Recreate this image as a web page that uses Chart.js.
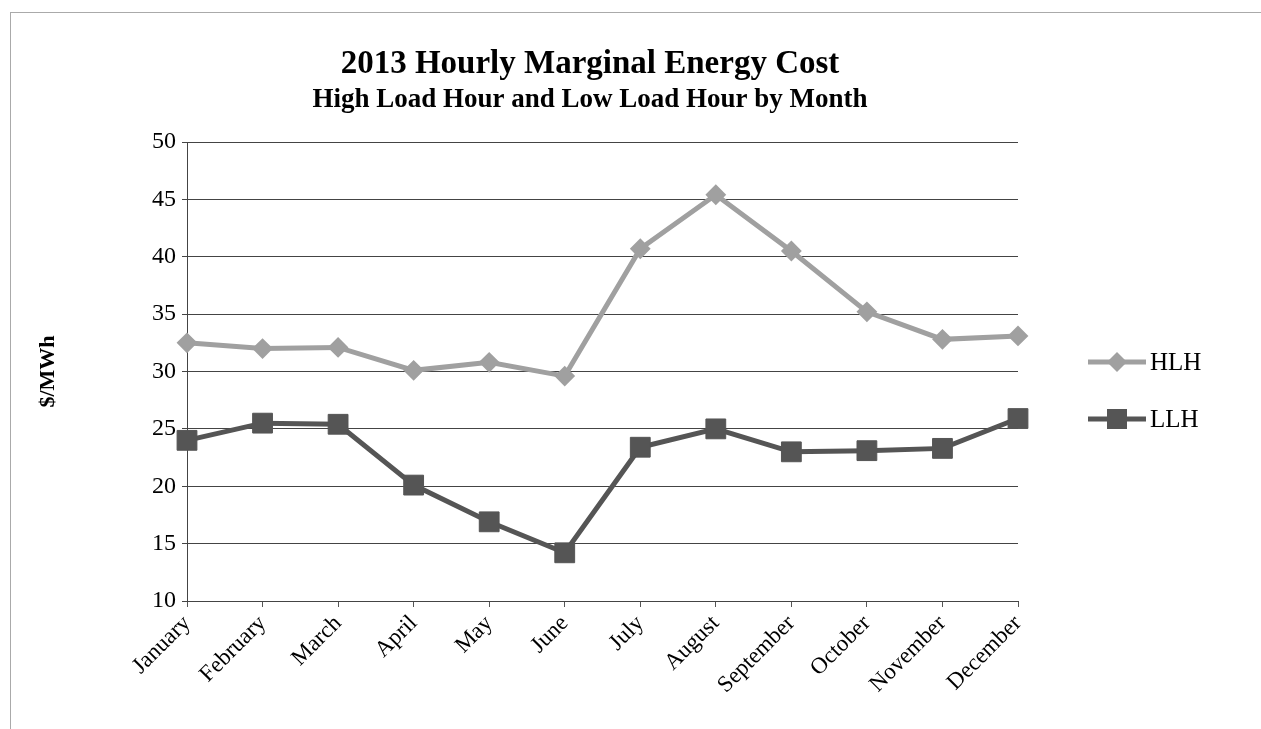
<!DOCTYPE html>
<html>
<head>
<meta charset="utf-8">
<script src="https://cdn.jsdelivr.net/npm/chart.js@4"></script>
<style>
  html, body { margin: 0; padding: 0; background: #fff; }
  #wrap { position: relative; width: 1261px; height: 729px; }
</style>
</head>
<body>
<div id="wrap"><canvas id="costChart" width="1261" height="729"></canvas></div>
<script>
const months = ['January', 'February', 'March', 'April', 'May', 'June', 'July',
  'August', 'September', 'October', 'November', 'December'];
const hlh = [32.5, 32.0, 32.1, 30.1, 30.8, 29.6, 40.7, 45.4, 40.5, 35.2, 32.8, 33.1];
const llh = [24.0, 25.5, 25.4, 20.1, 16.9, 14.2, 23.4, 25.0, 23.0, 23.1, 23.3, 25.9];
const yTicks = [10, 15, 20, 25, 30, 35, 40, 45, 50];
const titleText = '2013 Hourly Marginal Energy Cost';
const subtitleText = 'High Load Hour and Low Load Hour by Month';

const serif = '"Liberation Serif", "Times New Roman", serif';
const hlhColor = '#a0a0a0';
const llhColor = '#555555';

// frame, titles and the line+marker legend on the right
const decorPlugin = {
  id: 'decor',
  beforeDraw(chart) {
    const ctx = chart.ctx;
    ctx.save();
    ctx.strokeStyle = '#aaa';
    ctx.lineWidth = 1;
    ctx.strokeRect(10.5, 12.5, 1400, 900);
    ctx.restore();
  },
  afterDraw(chart) {
    const ctx = chart.ctx;
    ctx.save();
    ctx.fillStyle = '#000';
    ctx.textAlign = 'center';
    ctx.textBaseline = 'alphabetic';
    ctx.font = 'bold 33px ' + serif;
    ctx.fillText(titleText, 590, 73);
    ctx.font = 'bold 27px ' + serif;
    ctx.fillText(subtitleText, 590, 107);

    const items = [
      { label: 'HLH', color: hlhColor, shape: 'diamond', y: 362 },
      { label: 'LLH', color: llhColor, shape: 'square', y: 419 }
    ];
    items.forEach(it => {
      ctx.strokeStyle = it.color;
      ctx.lineWidth = 5;
      ctx.beginPath();
      ctx.moveTo(1088, it.y);
      ctx.lineTo(1146, it.y);
      ctx.stroke();
      ctx.fillStyle = it.color;
      ctx.beginPath();
      if (it.shape === 'diamond') {
        ctx.moveTo(1117 - 10, it.y);
        ctx.lineTo(1117, it.y - 10);
        ctx.lineTo(1117 + 10, it.y);
        ctx.lineTo(1117, it.y + 10);
        ctx.closePath();
      } else {
        ctx.rect(1117 - 10, it.y - 10, 20, 20);
      }
      ctx.fill();
      ctx.fillStyle = '#000';
      ctx.textAlign = 'left';
      ctx.textBaseline = 'middle';
      ctx.font = '25px ' + serif;
      ctx.fillText(it.label, 1150, it.y + 1);
    });
    ctx.restore();
  }
};

const ctx = document.getElementById('costChart').getContext('2d');
const costChart = new Chart(ctx, {
  type: 'line',
  data: {
    labels: months,
    datasets: [
      {
        label: 'HLH',
        data: hlh,
        borderColor: hlhColor,
        backgroundColor: hlhColor,
        borderWidth: 5,
        pointStyle: 'rectRot',
        pointRadius: 9,
        pointBorderWidth: 2,
        pointHoverRadius: 9,
        tension: 0
      },
      {
        label: 'LLH',
        data: llh,
        borderColor: llhColor,
        backgroundColor: llhColor,
        borderWidth: 5,
        pointStyle: 'rect',
        pointRadius: 14,
        pointBorderWidth: 1,
        pointHoverRadius: 14,
        tension: 0
      }
    ]
  },
  options: {
    responsive: false,
    animation: false,
    layout: { padding: { left: 0, top: 142, right: 243, bottom: 0 } },
    plugins: {
      legend: { display: false },
      title: { display: false },
      tooltip: { enabled: false }
    },
    scales: {
      x: {
        offset: false,
        afterFit: s => { s.height = 128; },
        grid: {
          drawOnChartArea: false,
          drawTicks: true,
          tickLength: 6,
          color: '#555'
        },
        border: { color: '#444', width: 1 },
        ticks: {
          minRotation: 45,
          maxRotation: 45,
          color: '#000',
          padding: 3,
          font: { family: serif, size: 23 }
        }
      },
      y: {
        min: 10,
        max: 50,
        afterFit: s => { s.width = 187; },
        afterBuildTicks: s => { s.ticks = yTicks.map(v => ({ value: v })); },
        grid: {
          color: '#444',
          lineWidth: 1,
          tickLength: 5
        },
        border: { color: '#444', width: 1 },
        ticks: {
          color: '#000',
          padding: 6,
          font: { family: serif, size: 24 }
        },
        title: {
          display: true,
          text: '$/MWh',
          color: '#000',
          padding: { top: 35, bottom: 0 },
          font: { family: serif, size: 22, weight: 'bold' }
        }
      }
    }
  },
  plugins: [decorPlugin]
});
</script>
</body>
</html>
